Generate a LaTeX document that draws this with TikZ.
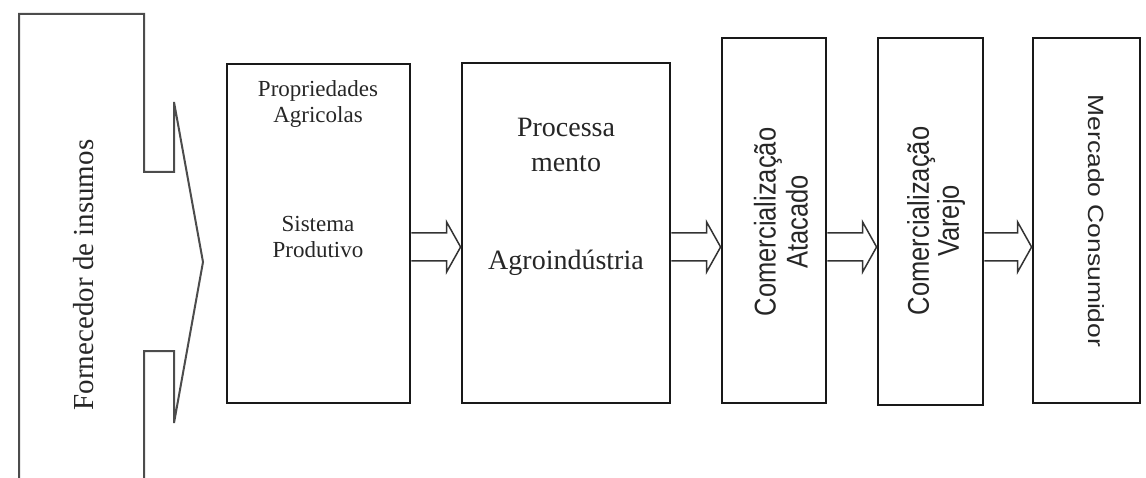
\documentclass[tikz,border=0pt]{standalone}
\usepackage{fontspec}
\setmainfont{Liberation Serif}
\newfontfamily\sansnarrow[FakeStretch=0.85]{Liberation Sans}
\newfontfamily\sanswide[FakeStretch=1.2]{Liberation Sans}
\usetikzlibrary{calc}
\tikzset{
  stagebox/.style={draw=black!90, line width=2.8pt, fill=none, inner sep=0pt},
  flowline/.style={draw=black!80, line width=1.5pt, line join=miter},
  supplier/.style={draw=black!70, line width=2pt, line join=miter},
  lbl/.style={inner sep=0pt, align=center, text=black!85},
}
\newcommand{\flowarrow}[2]{%
  \draw[flowline]
    ($(#1.east |- mid)+(0,-14)$) -- ($(#2.west |- mid)+(-14,-14)$)
    -- ($(#2.west |- mid)+(-14,-25)$) -- (#2.west |- mid)
    -- ($(#2.west |- mid)+(-14,25)$) -- ($(#2.west |- mid)+(-14,14)$)
    -- ($(#1.east |- mid)+(0,14)$);}
\begin{document}
\begin{tikzpicture}[x=1pt,y=-1pt]
\useasboundingbox (0,0) rectangle (1146,478);
\coordinate (mid) at (0,247);

% supplier shape
\draw[supplier] (19,478) -- (19,14) -- (144,14) -- (144,172) -- (174,172)
  -- (174,102) -- (203,262) -- (174,423) -- (174,351) -- (144,351) -- (144,478);
\node[lbl, rotate=90, font=\fontsize{29}{32}\selectfont] (forn) at (84,275) {Fornecedor de insumos};

% boxes
\node[stagebox, minimum width=183pt, minimum height=339pt] (prop) at (318.5,233.5) {};
\node[stagebox, minimum width=208pt, minimum height=340pt] (proc) at (566,233) {};
\node[stagebox, minimum width=104pt, minimum height=365pt] (atac) at (774,220.5) {};
\node[stagebox, minimum width=105pt, minimum height=367pt] (vare) at (930.5,221.5) {};
\node[stagebox, minimum width=107pt, minimum height=365pt] (merc) at (1086.5,220.5) {};

% labels
\node[lbl, font=\fontsize{23}{26}\selectfont] (propt) at (318,104) {Propriedades\\Agricolas};
\node[lbl, font=\fontsize{23}{26}\selectfont] (sist) at (318,237) {Sistema\\Produtivo};
\node[lbl, font=\fontsize{28}{35}\selectfont] (processa) at (566,145) {Processa\\mento};
\node[lbl, font=\fontsize{28}{32}\selectfont] (agro) at (566,263) {Agroindústria};
\node[lbl, rotate=90, font=\sansnarrow\fontsize{30}{32}\selectfont] (atact) at (781,222) {Comercialização\\Atacado};
\node[lbl, rotate=90, font=\sansnarrow\fontsize{30}{30}\selectfont] (varet) at (936,221) {Comercialização\\Varejo};
\node[lbl, rotate=-90, font=\sanswide\fontsize{22}{26}\selectfont] (merct) at (1096,221) {Mercado Consumidor};

% arrows
\flowarrow{prop}{proc}
\flowarrow{proc}{atac}
\flowarrow{atac}{vare}
\flowarrow{vare}{merc}
\end{tikzpicture}
\end{document}
